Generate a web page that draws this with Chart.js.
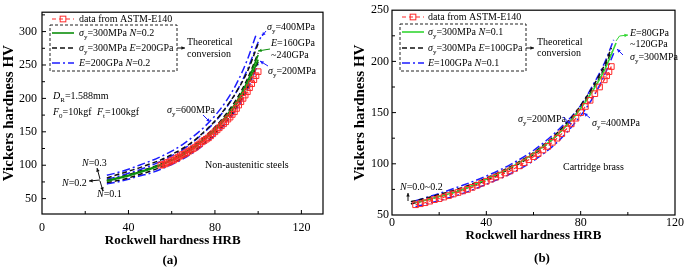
<!DOCTYPE html>
<html>
<head>
<meta charset="utf-8">
<script src="https://cdn.jsdelivr.net/npm/chart.js@4.4.1/dist/chart.umd.min.js"></script>
<style>
  html, body { margin: 0; padding: 0; background: #fff; }
  .panel { position: absolute; top: 0; width: 340px; height: 268px; }
  #pa { left: 0; }
  #pb { left: 345px; }
</style>
</head>
<body>
<div class="panel" id="pa"><canvas id="chartA"></canvas></div>
<div class="panel" id="pb"><canvas id="chartB"></canvas></div>
<script>
'use strict'

// ---- (a) non-austenitic steels ----
const xTicksA = [0, 40, 80, 120]
const yTicksA = [50, 100, 150, 200, 250, 300]

const hrbAstmA = [55, 56, 57, 58, 59, 60, 61, 62, 63, 64, 65, 66, 67, 68, 69, 70, 71, 72, 73, 74, 75, 76, 77,
  78, 79, 80, 81, 82, 83, 84, 85, 86, 87, 88, 89, 90, 91, 92, 93, 94, 95, 96, 97, 98, 99, 100]
const hvAstmA = [100, 101, 102, 104, 105, 107, 108, 110, 112, 114, 116, 117, 119, 121, 123, 125, 127, 130, 132,
  135, 137, 139, 141, 144, 147, 150, 153, 156, 159, 162, 165, 169, 172, 176, 180, 185, 190, 195, 200, 205, 210,
  216, 222, 228, 234, 240]

const hrbTheoryA = [30, 35, 40, 45, 50, 55, 60, 65, 70, 75, 80, 85, 90, 95, 100]
const hvE160A = [76, 80, 84, 89, 94, 100, 107, 115, 125, 138, 152, 170, 191, 220, 258]
const hvE240A = [77, 81, 85, 90, 95, 101, 108, 117, 127, 140, 155, 173, 195, 225, 265]
const hvN01A = [74, 77, 81, 86, 91, 97, 103, 111, 121, 133, 147, 165, 187, 216, 255]
const hvN02A = [77, 81, 86, 91, 96, 102, 109, 118, 129, 142, 157, 176, 199, 229, 268]
const hvN03A = [81, 86, 91, 96, 102, 108, 116, 125, 136, 150, 166, 186, 210, 240, 282]
const hvSy200A = [72, 75, 79, 84, 88, 94, 101, 109, 119, 131, 145, 162, 184, 213, 252]
const hrbSy400A = [30, 35, 40, 45, 50, 55, 60, 65, 70, 75, 80, 85, 90, 95, 100, 102]
const hvSy400A = [79, 83, 88, 93, 99, 106, 114, 123, 135, 149, 165, 185, 210, 243, 284, 296]
const hrbSy600A = [30, 35, 40, 45, 50, 55, 60, 65, 70, 75, 80, 85, 90, 95, 99]
const hvSy600A = [85, 89, 94, 100, 106, 113, 121, 131, 143, 157, 174, 195, 222, 258, 295]

// ---- (b) cartridge brass ----
const xTicksB = [0, 40, 80, 120]
const yTicksB = [50, 100, 150, 200, 250]

const hrbAstmB = [10, 12, 14, 16, 18, 20, 22, 24, 26, 28, 30, 32, 34, 36, 38, 40, 42, 44, 46, 48, 50, 52, 54,
  56, 58, 60, 62, 64, 66, 68, 70, 72, 74, 76, 78, 80, 82, 84, 86, 88, 90, 91, 92, 93]
const hvAstmB = [60, 61, 62, 63.5, 65, 66, 67.5, 69, 70.5, 72, 73.5, 75, 77, 79, 81, 83, 85, 87, 89, 91, 93,
  95.5, 98, 101, 104, 107, 110, 113.5, 117, 121, 125, 129.5, 134, 139, 144.5, 150, 156, 162, 168.5, 175, 182,
  186, 190, 195]

const hrbGreenB = [10, 20, 30, 40, 50, 60, 70, 80, 90, 95]
const hvGreenB = [62, 68, 75, 85, 96, 110, 128, 154, 191, 218]
const hrbBlackB = [8, 10, 20, 30, 40, 50, 60, 70, 80, 90, 93]
const hvN00B = [61, 62, 68, 75, 84, 95, 109, 128, 155, 193, 210]
const hvN02B = [63, 64, 70, 77, 86, 97, 111, 130, 157, 196, 213]
const hrbBlueB = [10, 20, 30, 40, 50, 60, 70, 80, 85, 90, 94]
const hvSy200B = [64, 71, 79, 88, 99, 113, 132, 157, 176, 198, 221]
const hvSy400B = [58, 64, 71, 80, 90, 103, 121, 147, 164, 186, 208]

const SERIF = "'Liberation Serif', 'Times New Roman', serif"
const RED = '#ff2a2a'
const BLUE = '#1c1cff'
const BLACK = '#111111'

const styles = {
  astm: {
    borderColor: RED, borderDash: [4, 3], borderWidth: 1.2, pointStyle: 'rect', pointRadius: 4,
    pointBorderColor: RED, pointBackgroundColor: 'rgba(0,0,0,0)', pointBorderWidth: 1
  },
  greenA: { borderColor: '#0c8f0c', borderDash: [], borderWidth: 1.6 },
  greenB: { borderColor: '#33d633', borderDash: [], borderWidth: 1.6 },
  black: { borderColor: BLACK, borderDash: [5, 3], borderWidth: 1.5 },
  blue: { borderColor: BLUE, borderDash: [8, 3, 2, 3], borderWidth: 1.5 }
}

function zip (xs, ys) {
  return xs.map((x, i) => ({ x, y: ys[i] }))
}

function lineSet (label, xs, ys, style) {
  return Object.assign({
    label,
    data: zip(xs, ys),
    showLine: true,
    fill: false,
    pointRadius: 0,
    cubicInterpolationMode: 'monotone'
  }, style)
}

// "{x}" = italic, "[x]" = subscript
function parseRich (s) {
  const out = []
  const re = /\{([^}]*)\}|\[([^\]]*)\]|([^{[]+)/g
  let m
  while ((m = re.exec(s))) {
    if (m[1] !== undefined) out.push({ t: m[1], st: 'i' })
    else if (m[2] !== undefined) out.push({ t: m[2], st: 'sub' })
    else out.push({ t: m[3], st: '' })
  }
  return out
}

function drawRich (ctx, s, x, y, size, align, weight) {
  const parts = parseRich(s)
  const fontOf = p => (p.st === 'i' ? 'italic ' : '') + (weight || '') + ' ' +
    (p.st === 'sub' ? size * 0.7 : size) + 'px ' + SERIF
  let w = 0
  for (const p of parts) {
    ctx.font = fontOf(p)
    w += ctx.measureText(p.t).width
  }
  let cx = align === 'center' ? x - w / 2 : x
  ctx.textAlign = 'left'
  ctx.textBaseline = 'middle'
  ctx.fillStyle = '#000'
  for (const p of parts) {
    ctx.font = fontOf(p)
    ctx.fillText(p.t, cx, p.st === 'sub' ? y + size * 0.4 : y)
    cx += ctx.measureText(p.t).width
  }
}

function drawArrow (ctx, pts, color) {
  ctx.strokeStyle = color
  ctx.fillStyle = color
  ctx.lineWidth = 1
  ctx.setLineDash([])
  ctx.beginPath()
  ctx.moveTo(pts[0][0], pts[0][1])
  for (const p of pts.slice(1)) ctx.lineTo(p[0], p[1])
  ctx.stroke()
  const [x1, y1] = pts[pts.length - 2]
  const [x2, y2] = pts[pts.length - 1]
  const a = Math.atan2(y2 - y1, x2 - x1)
  const h = 4
  ctx.beginPath()
  ctx.moveTo(x2, y2)
  ctx.lineTo(x2 - h * Math.cos(a - 0.45), y2 - h * Math.sin(a - 0.45))
  ctx.lineTo(x2 - h * Math.cos(a + 0.45), y2 - h * Math.sin(a + 0.45))
  ctx.closePath()
  ctx.fill()
}

function drawSample (ctx, st, x0, x1, y) {
  ctx.strokeStyle = st.borderColor
  ctx.lineWidth = st.borderWidth
  ctx.setLineDash(st.borderDash)
  ctx.beginPath()
  ctx.moveTo(x0, y)
  ctx.lineTo(x1, y)
  ctx.stroke()
  ctx.setLineDash([])
  if (st.pointStyle === 'rect') {
    const s = st.pointRadius * Math.SQRT1_2
    ctx.lineWidth = 1
    ctx.strokeRect((x0 + x1) / 2 - s, y - s, 2 * s, 2 * s)
  }
}

function decorPlugin (spec) {
  return {
    id: 'decor',
    afterDraw (chart) {
      const ctx = chart.ctx
      const { left, right, top, bottom } = chart.chartArea
      const xs = chart.scales.x
      const ys = chart.scales.y
      ctx.save()
      // frame
      ctx.strokeStyle = '#000'
      ctx.lineWidth = 1.2
      ctx.setLineDash([])
      ctx.strokeRect(left, top, right - left, bottom - top)
      // inward ticks, minor at midpoints
      ctx.lineWidth = 1
      ctx.beginPath()
      const xt = xs.ticks.map(t => t.value)
      const xstep = xt[1] - xt[0]
      for (let v = xt[0]; v <= xs.max; v += xstep / 2) {
        const px = xs.getPixelForValue(v)
        const len = (Math.round(v / xstep * 2) % 2 === 0) ? 4 : 3
        if (px <= left + 0.5 || px >= right - 0.5) continue
        ctx.moveTo(px, bottom)
        ctx.lineTo(px, bottom - len)
      }
      const yt = ys.ticks.map(t => t.value)
      const ystep = yt[1] - yt[0]
      for (let v = yt[0]; v <= ys.max; v += ystep / 2) {
        const py = ys.getPixelForValue(v)
        const len = (Math.round(v / ystep * 2) % 2 === 0) ? 4 : 3
        if (py >= bottom - 0.5 || py <= top + 0.5) continue
        ctx.moveTo(left, py)
        ctx.lineTo(left + len, py)
      }
      ctx.stroke()
      // legend
      const lg = spec.legend
      for (const it of lg.items) {
        drawSample(ctx, styles[it.st], lg.x0, lg.x1, it.y)
        drawRich(ctx, it.s, lg.tx, it.y, 10)
      }
      ctx.strokeStyle = '#222'
      ctx.lineWidth = 1
      ctx.setLineDash([3, 2])
      const b = lg.box
      ctx.strokeRect(b[0], b[1], b[2] - b[0], b[3] - b[1])
      ctx.setLineDash([])
      // notes
      for (const t of spec.texts) drawRich(ctx, t.s, t.x, t.y, 10)
      for (const a of spec.arrows) drawArrow(ctx, a.pts, a.c)
      drawRich(ctx, spec.label.s, spec.label.x, spec.label.y, 13, 'center', 'bold')
      ctx.restore()
    }
  }
}

function makeChart (id, datasets, sc, spec) {
  return new Chart(document.getElementById(id), {
    type: 'scatter',
    data: { datasets },
    options: {
      responsive: true,
      maintainAspectRatio: false,
      animation: false,
      events: [],
      layout: { padding: { left: 0, top: sc.top, right: sc.right, bottom: 0 } },
      plugins: { legend: { display: false }, tooltip: { enabled: false } },
      scales: {
        x: {
          type: 'linear',
          min: sc.xmin,
          max: sc.xmax,
          grid: { display: false, drawTicks: false },
          border: { display: false },
          afterBuildTicks: s => { s.ticks = sc.xticks.map(v => ({ value: v })) },
          ticks: { padding: sc.xpad, color: '#000', font: { family: SERIF, size: 12 } },
          title: { display: true, text: sc.xtitle, color: '#000', padding: { top: 0, bottom: sc.xtitlePad }, font: { family: SERIF, size: 13, weight: 'bold' } },
          afterFit: s => { s.height = sc.xh }
        },
        y: {
          type: 'linear',
          min: sc.ymin,
          max: sc.ymax,
          grid: { display: false, drawTicks: false },
          border: { display: false },
          afterBuildTicks: s => { s.ticks = sc.yticks.map(v => ({ value: v })) },
          ticks: { padding: sc.ypad, color: '#000', font: { family: SERIF, size: 12 } },
          title: { display: true, text: 'Vickers hardness HV', color: '#000', padding: { top: sc.ytitlePad, bottom: 0 }, font: { family: SERIF, size: 15, weight: 'bold' } },
          afterFit: s => { s.width = sc.yw }
        }
      }
    },
    plugins: [decorPlugin(spec)]
  })
}

const datasetsA = [
  lineSet('data from ASTM-E140', hrbAstmA, hvAstmA, styles.astm),
  lineSet('σy=300MPa N=0.2 E=160GPa', hrbTheoryA, hvE160A, styles.greenA),
  lineSet('σy=300MPa N=0.2 E=240GPa', hrbTheoryA, hvE240A, styles.greenA),
  lineSet('σy=300MPa E=200GPa N=0.1', hrbTheoryA, hvN01A, styles.black),
  lineSet('σy=300MPa E=200GPa N=0.2', hrbTheoryA, hvN02A, styles.black),
  lineSet('σy=300MPa E=200GPa N=0.3', hrbTheoryA, hvN03A, styles.black),
  lineSet('E=200GPa N=0.2 σy=200MPa', hrbTheoryA, hvSy200A, styles.blue),
  lineSet('E=200GPa N=0.2 σy=400MPa', hrbSy400A, hvSy400A, styles.blue),
  lineSet('E=200GPa N=0.2 σy=600MPa', hrbSy600A, hvSy600A, styles.blue)
]

const datasetsB = [
  lineSet('data from ASTM-E140', hrbAstmB, hvAstmB, styles.astm),
  lineSet('σy=300MPa N=0.1', hrbGreenB, hvGreenB, styles.greenB),
  lineSet('σy=300MPa E=100GPa N=0.0', hrbBlackB, hvN00B, styles.black),
  lineSet('σy=300MPa E=100GPa N=0.2', hrbBlackB, hvN02B, styles.black),
  lineSet('E=100GPa N=0.1 σy=200MPa', hrbBlueB, hvSy200B, styles.blue),
  lineSet('E=100GPa N=0.1 σy=400MPa', hrbBlueB, hvSy400B, styles.blue)
]

makeChart('chartA', datasetsA, {
  xmin: 0, xmax: 130, ymin: 27, ymax: 329, xticks: xTicksA, yticks: yTicksA,
  top: 7, right: 17, xh: 54, yw: 42,
  xpad: 7, ypad: 5, xtitlePad: 20, ytitlePad: 0, xtitle: 'Rockwell hardness HRB      '
}, {
  legend: {
    x0: 52, x1: 74, tx: 79, box: [50, 25, 177, 71],
    items: [
      { s: 'data from ASTM-E140', st: 'astm', y: 19 },
      { s: '{σ}[y]=300MPa {N}=0.2', st: 'greenA', y: 33 },
      { s: '{σ}[y]=300MPa {E}=200GPa', st: 'black', y: 48 },
      { s: '{E}=200GPa {N}=0.2', st: 'blue', y: 63 }
    ]
  },
  texts: [
    { s: 'Theoretical', x: 187, y: 42 },
    { s: 'conversion', x: 187, y: 54 },
    { s: '{D}[R]=1.588mm', x: 53, y: 96 },
    { s: '{F}[0]=10kgf', x: 53, y: 112 },
    { s: '{F}[t]=100kgf', x: 97, y: 112 },
    { s: '{σ}[y]=600MPa', x: 167, y: 110 },
    { s: '{σ}[y]=400MPa', x: 267, y: 27 },
    { s: '{E}=160GPa', x: 271, y: 43 },
    { s: '~240GPa', x: 271, y: 55 },
    { s: '{σ}[y]=200MPa', x: 268, y: 71 },
    { s: 'Non-austenitic steels', x: 205, y: 165 },
    { s: '{N}=0.3', x: 82, y: 163 },
    { s: '{N}=0.2', x: 62, y: 183 },
    { s: '{N}=0.1', x: 97, y: 194 }
  ],
  arrows: [
    { pts: [[177, 48], [185, 48]], c: BLACK },
    { pts: [[203, 115], [210, 122]], c: BLUE },
    { pts: [[266, 31], [262, 36]], c: BLUE },
    { pts: [[270, 49], [258, 51]], c: '#0c8f0c' },
    { pts: [[268, 66], [260, 61]], c: BLUE },
    { pts: [[100, 179], [97, 168]], c: BLACK },
    { pts: [[100, 180], [89, 181]], c: BLACK },
    { pts: [[100, 181], [103, 191]], c: BLACK }
  ],
  label: { s: '(a)', x: 170, y: 261 }
})

makeChart('chartB', datasetsB, {
  xmin: 0, xmax: 120, ymin: 50, ymax: 250, xticks: xTicksB, yticks: yTicksB,
  top: 7, right: 10, xh: 53, yw: 47,
  xpad: 1, ypad: 3, xtitlePad: 25, ytitlePad: 6, xtitle: 'Rockwell hardness HRB'
}, {
  legend: {
    x0: 57, x1: 79, tx: 83, box: [55, 24, 181, 71],
    items: [
      { s: 'data from ASTM-E140', st: 'astm', y: 17 },
      { s: '{σ}[y]=300MPa {N}=0.1', st: 'greenB', y: 32 },
      { s: '{σ}[y]=300MPa {E}=100GPa', st: 'black', y: 48 },
      { s: '{E}=100GPa {N}=0.1', st: 'blue', y: 63 }
    ]
  },
  texts: [
    { s: 'Theoretical', x: 192, y: 42 },
    { s: 'conversion', x: 192, y: 53 },
    { s: '{E}=80GPa', x: 285, y: 33 },
    { s: '~120GPa', x: 285, y: 44 },
    { s: '{σ}[y]=300MPa', x: 285, y: 57 },
    { s: '{σ}[y]=200MPa', x: 173, y: 119 },
    { s: '{σ}[y]=400MPa', x: 247, y: 123 },
    { s: 'Cartridge brass', x: 218, y: 167 },
    { s: '{N}=0.0~0.2', x: 55, y: 187 }
  ],
  arrows: [
    { pts: [[181, 48], [189, 48]], c: BLACK },
    { pts: [[271, 41], [274.5, 36], [283, 35]], c: '#33d633' },
    { pts: [[278, 55], [272, 49]], c: BLUE },
    { pts: [[218, 117], [226, 124]], c: BLUE },
    { pts: [[245, 118], [239, 113]], c: BLUE },
    { pts: [[63, 201], [63, 193]], c: BLACK }
  ],
  label: { s: '(b)', x: 197, y: 259 }
})
</script>
</body>
</html>
